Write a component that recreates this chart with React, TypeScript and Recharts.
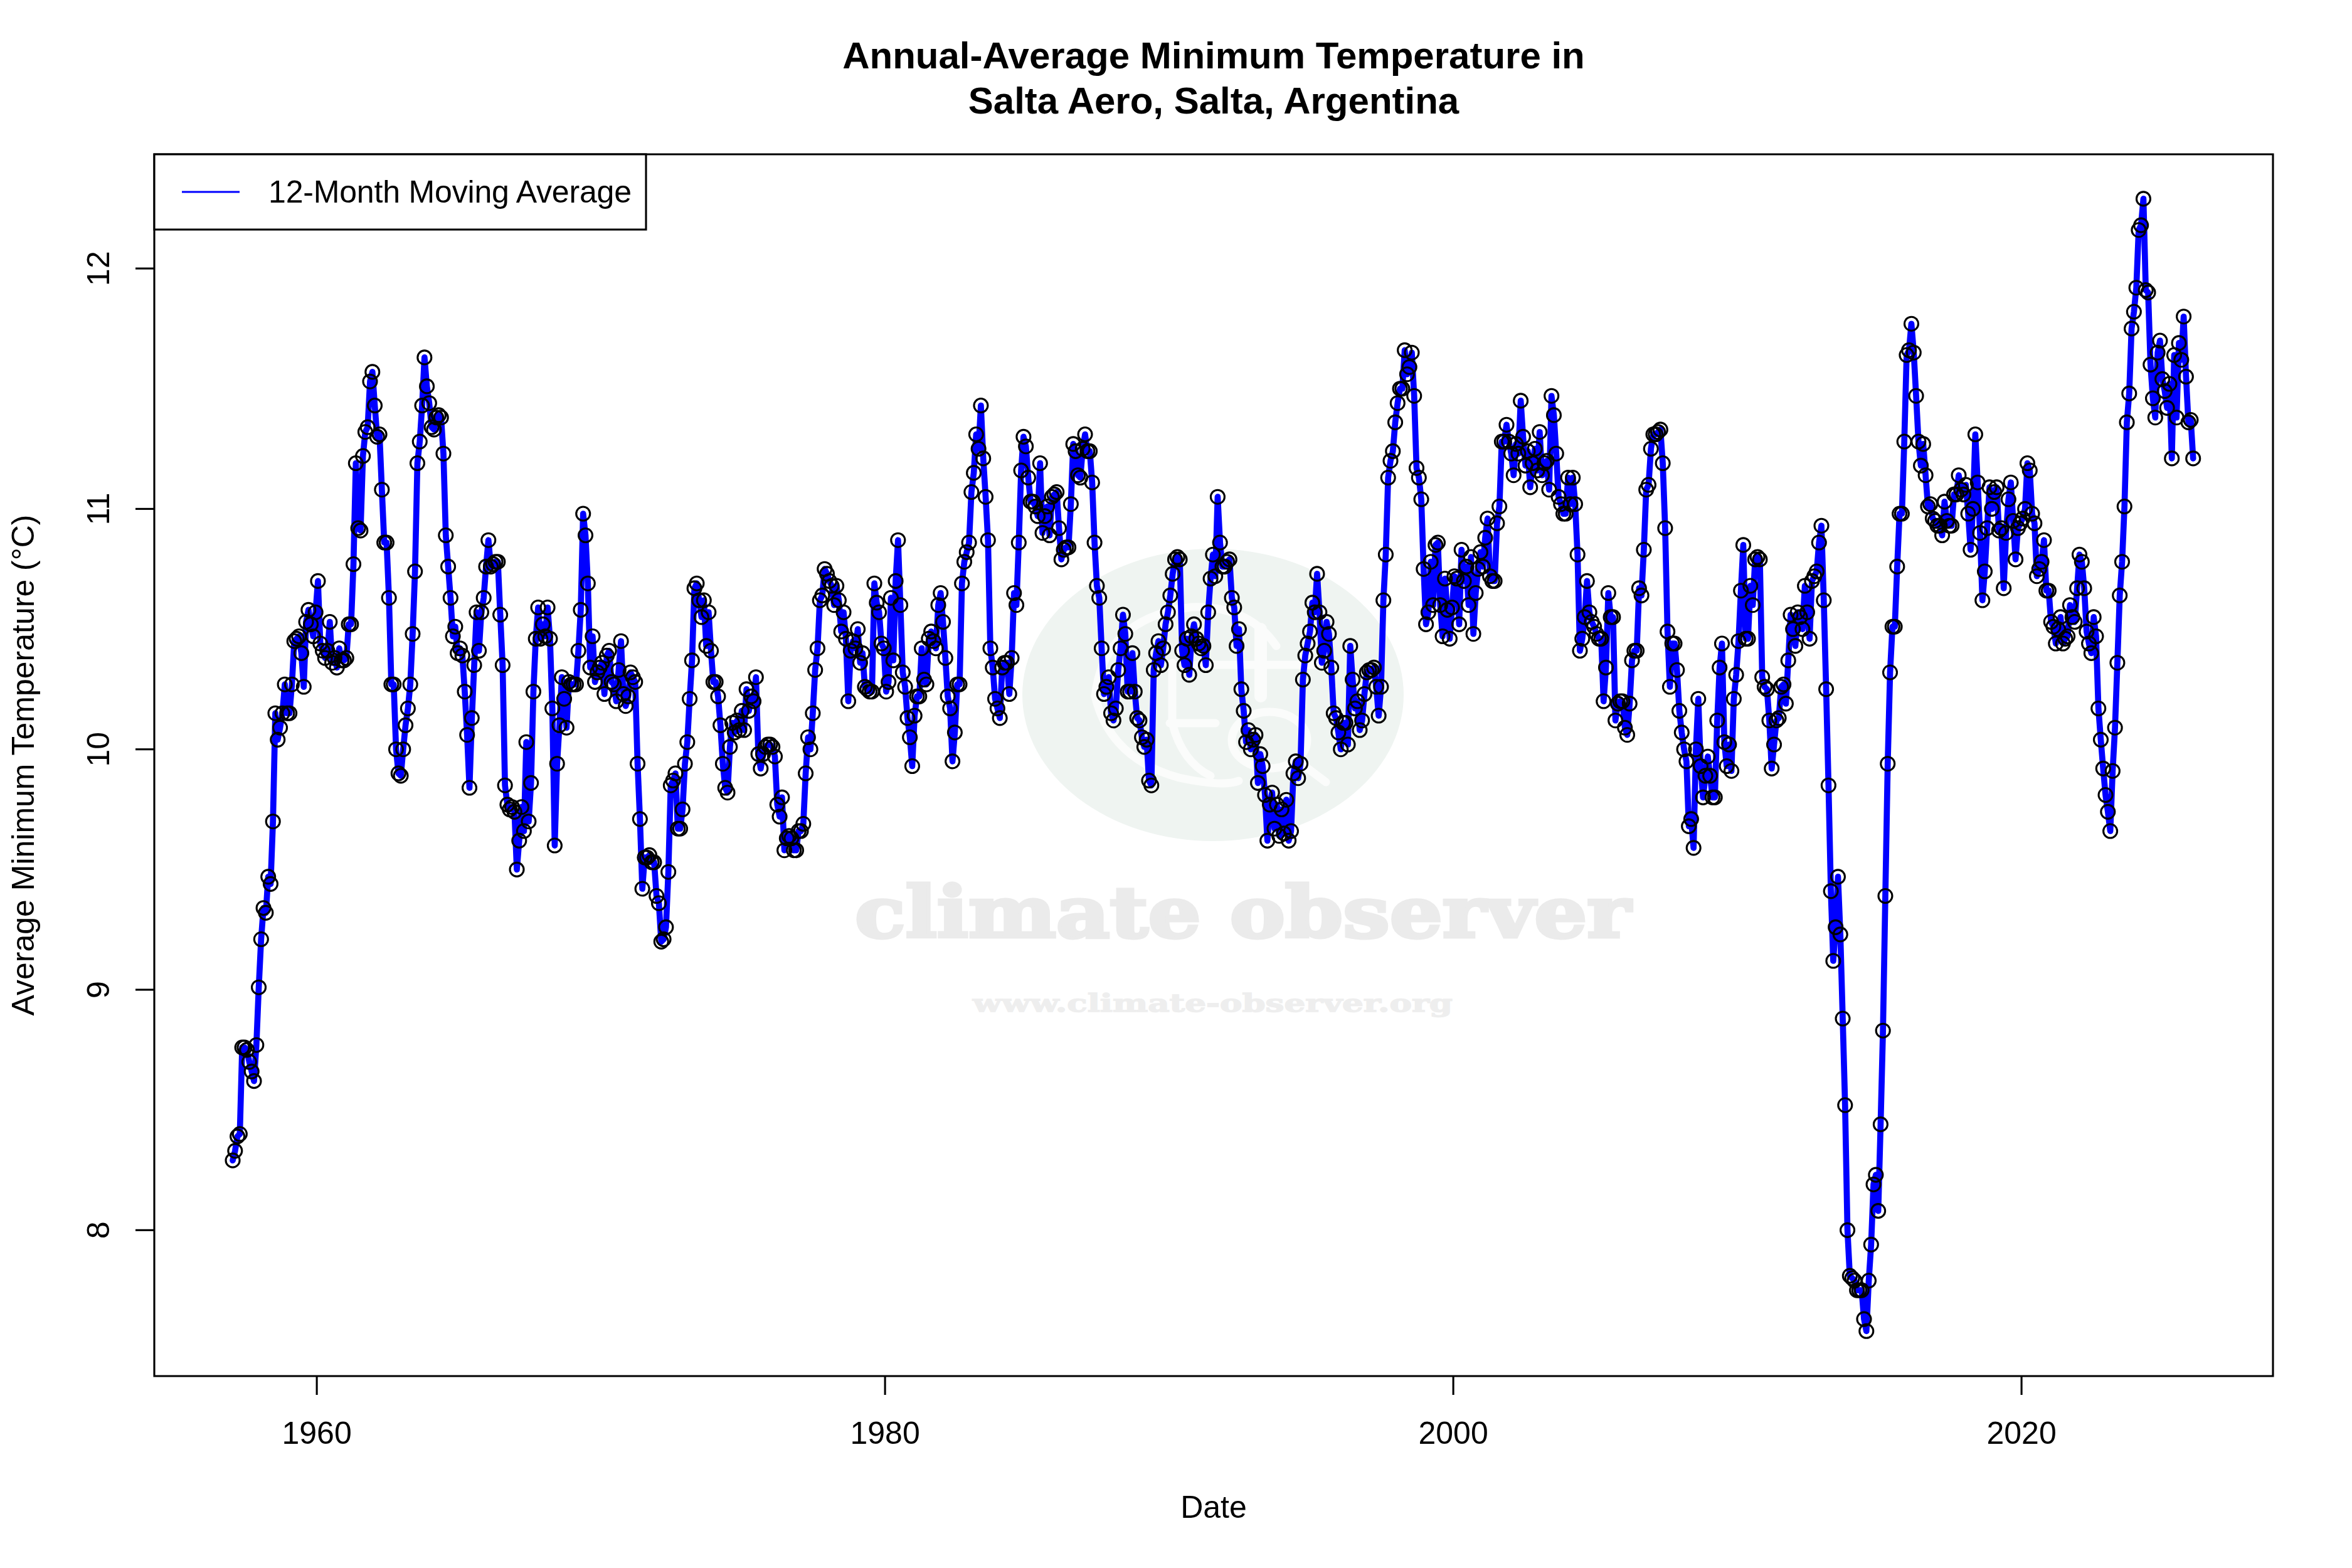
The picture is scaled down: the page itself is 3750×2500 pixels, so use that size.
import React from "react";
import { ComposedChart, Line, XAxis, YAxis, ReferenceArea } from "recharts";

const FONT = "'Liberation Sans', Arial, sans-serif";
const TITLE_LINES = ["Annual-Average Minimum Temperature in", "Salta Aero, Salta, Argentina"];
const LEGEND_LABEL = "12-Month Moving Average";
const X_LABEL = "Date";
const Y_LABEL = "Average Minimum Temperature (°C)";
const X_TICKS = [1960, 1980, 2000, 2020];
const Y_TICKS = [8, 9, 10, 11, 12];
const START_YEAR = 1957.04;

const values1957 = [8.29,8.33,8.39,8.40,8.76,8.76,8.75,8.70,8.66,8.62,8.77,9.01,9.21,9.34,9.32,9.47,9.44,9.70,10.15,10.04,10.09,10.15,10.27,10.15,10.15,10.27,10.45,10.46,10.47,10.40,10.26,10.53,10.58,10.52,10.47,10.57,10.70,10.44,10.41,10.38,10.41,10.53,10.36,10.38,10.34,10.42,10.37,10.37,10.38,10.52,10.52,10.77,11.19,10.92,10.91,11.22,11.32,11.34,11.53,11.57,11.43,11.30,11.31,11.08,10.86,10.86,10.63,10.27,10.27,10.00,9.90,9.89,10.00,10.10,10.17,10.27,10.48,10.74,11.19,11.28,11.43,11.63,11.51,11.44,11.34,11.33,11.38,11.39,11.38,11.23,10.89,10.76,10.63,10.47,10.51,10.40,10.42,10.39,10.24,10.06,9.84,10.13,10.35,10.57,10.41,10.57,10.63,10.76,10.87,10.76,10.77,10.78,10.78,10.56,10.35,9.85,9.77,9.75,9.76,9.74,9.50,9.62,9.76,9.66,10.03,9.70,9.86,10.24,10.46,10.59,10.46,10.52,10.47,10.59,10.46,10.17,9.60,9.94,10.10,10.30,10.21,10.09,10.28,10.27,10.27,10.27,10.41,10.58,10.98,10.89,10.69,10.34,10.47,10.28,10.32,10.34,10.36,10.23,10.39,10.41,10.28,10.27,10.20,10.33,10.45,10.23,10.18,10.22,10.32,10.30,10.28];
const values1971 = [9.94,9.71,9.42,9.55,9.55,9.56,9.53,9.53,9.39,9.36,9.20,9.21,9.26,9.49,9.85,9.87,9.90,9.67,9.67,9.75,9.94,10.03,10.21,10.37,10.67,10.69,10.62,10.55,10.62,10.43,10.57,10.41,10.28,10.28,10.22,10.10,9.94,9.84,9.82,10.01,10.11,10.07,10.12,10.08,10.16,10.08,10.25,10.16,10.22,10.20,10.30,9.98,9.92,9.98,10.01,10.02,10.02,10.01,9.97,9.77,9.72,9.80,9.58,9.63,9.64,9.63,9.58,9.58,9.66,9.66,9.69,9.90,10.05,10.00,10.15,10.33,10.42,10.62,10.64,10.75,10.73,10.70,10.68,10.60,10.68,10.62,10.49,10.57,10.46,10.20,10.41,10.45,10.42,10.50,10.36,10.40,10.26,10.25,10.24,10.24,10.69,10.61,10.57,10.44,10.42,10.24,10.28,10.63,10.37,10.70,10.87,10.60,10.32,10.26,10.13,10.05,9.93,10.14,10.22,10.22,10.42,10.29,10.27,10.46,10.49,10.45,10.42,10.60,10.65,10.53,10.38,10.22,10.17,9.95,10.07,10.27,10.27,10.69,10.78,10.82,10.86,11.07,11.15,11.31,11.25,11.43,11.21,11.05,10.87,10.42,10.34,10.21,10.17,10.13,10.34,10.36,10.36,10.23,10.38,10.65,10.60,10.86,11.16,11.30,11.26,11.13,11.03,11.03,11.01,10.97,11.19,10.90,10.97,11.01,10.89,11.05,11.06,11.07,10.92,10.79,10.83,10.84,10.84,11.02,11.27,11.24,11.14,11.13,11.25,11.31,11.24,11.24,11.11,10.86,10.68,10.63];
const values1987 = [10.42,10.23,10.26,10.30,10.15,10.12,10.17,10.33,10.42,10.56,10.48,10.24,10.24,10.40,10.24,10.13,10.12,10.05,10.01,10.04,9.87,9.85,10.33,10.40,10.45,10.35,10.42,10.52,10.57,10.64,10.73,10.79,10.80,10.79,10.41,10.35,10.46,10.31,10.47,10.52,10.46,10.44,10.42,10.43,10.35,10.57,10.71,10.81,10.72,11.05,10.86,10.76,10.76,10.78,10.79,10.63,10.59,10.43,10.50,10.25,10.16,10.03,10.08,10.00,10.04,10.06,9.86,9.98,9.93,9.81,9.62,9.77,9.82,9.67,9.77,9.64,9.75,9.65,9.79,9.62,9.66,9.90,9.95,9.88,9.94,10.29,10.39,10.44,10.49,10.61,10.57,10.73,10.57,10.36,10.41,10.53,10.48,10.34,10.15,10.13,10.07,10.00,10.11,10.11,10.02,10.43,10.29,10.17,10.20,10.08,10.12,10.23,10.32,10.33,10.33,10.34,10.26,10.14,10.26,10.62,10.81,11.13,11.20,11.24,11.36,11.44,11.50,11.50,11.66,11.56,11.59,11.65,11.47,11.17,11.13,11.04,10.75,10.52,10.57,10.78,10.60,10.85,10.86,10.60,10.47,10.71,10.58,10.46,10.59,10.72,10.71,10.52,10.83,10.70,10.76,10.60,10.80,10.48,10.65,10.75,10.82,10.76,10.88,10.96,10.72,10.70,10.70,10.94,11.01,11.28,11.28,11.35,11.28,11.23,11.14,11.27,11.23,11.45,11.30,11.18,11.24,11.09,11.19,11.25,11.16,11.32,11.14,11.19,11.20,11.08,11.47,11.39,11.23,11.05,11.02,10.98,10.98,11.13,11.02,11.13,11.02,10.81];
const values2004 = [10.41,10.46,10.55,10.70,10.57,10.53,10.51,10.48,10.46,10.46,10.20,10.34,10.65,10.55,10.55,10.12,10.19,10.20,10.20,10.09,10.06,10.19,10.37,10.41,10.41,10.67,10.64,10.83,11.08,11.10,11.25,11.31,11.31,11.32,11.33,11.19,10.92,10.49,10.26,10.44,10.44,10.33,10.16,10.07,10.00,9.95,9.68,9.71,9.59,10.00,10.21,9.93,9.80,9.89,9.97,9.89,9.80,9.80,10.12,10.34,10.44,10.03,9.93,10.02,9.91,10.21,10.31,10.45,10.66,10.85,10.46,10.46,10.68,10.60,10.79,10.80,10.79,10.30,10.26,10.25,10.12,9.92,10.02,10.12,10.13,10.26,10.27,10.19,10.37,10.56,10.50,10.43,10.57,10.55,10.50,10.68,10.57,10.46,10.70,10.72,10.74,10.86,10.93,10.62,10.25,9.85,9.41,9.12,9.26,9.47,9.23,8.88,8.52,8.00,7.81,7.80,7.79,7.75,7.75,7.75,7.63,7.58,7.79,7.94,8.19,8.23,8.08,8.44,8.83,9.39,9.94,10.32,10.51,10.51,10.76,10.98,10.98,11.28,11.64,11.66,11.77,11.65,11.47,11.28,11.18,11.27,11.14,11.01,11.02,10.96,10.95,10.93,10.93,10.89,11.03,10.95,10.93,10.93,11.06,11.06,11.14,11.08,11.06,11.10,10.98];
const values2018 = [10.83,11.00,11.31,11.11,10.90,10.62,10.74,10.92,11.09,11.00,11.07,11.09,10.91,10.92,10.67,10.90,11.04,11.11,10.95,10.79,10.92,10.94,10.96,11.00,11.19,11.16,10.98,10.94,10.72,10.75,10.78,10.87,10.66,10.66,10.53,10.51,10.44,10.50,10.55,10.44,10.46,10.47,10.60,10.55,10.53,10.67,10.81,10.78,10.67,10.49,10.44,10.40,10.55,10.47,10.17,10.04,9.92,9.81,9.74,9.66,9.91,10.09,10.36,10.64,10.78,11.01,11.36,11.48,11.75,11.82,11.92,12.16,12.18,12.29,11.91,11.90,11.60,11.46,11.38,11.65,11.70,11.54,11.49,11.42,11.52,11.21,11.64,11.38,11.69,11.62,11.80,11.55,11.36,11.37,11.21];

const values = [...values1957, ...values1971, ...values1987, ...values2004, ...values2018];
const table = values.map((value, i) => ({ year: START_YEAR + i / 12, value }));

const Ring = (p: any) => {
  const { cx, cy, index } = p;
  if (cx == null || cy == null) return <g key={index} />;
  return <circle key={index} cx={cx} cy={cy} r={11} fill="none" stroke="#000" strokeWidth={3.1} />;
};

const XTick = (p: any) => (
  <text x={p.x} y={p.y + 78} textAnchor="middle" fontFamily={FONT} fontSize={50} fill="#000">
    {p.payload.value}
  </text>
);
const YTick = (p: any) => (
  <text x={p.x - 42} y={p.y} textAnchor="middle" fontFamily={FONT} fontSize={50} fill="#000"
    transform={`rotate(-90 ${p.x - 42} ${p.y})`}>
    {p.payload.value}
  </text>
);

const Watermark = () => (
  <svg width={3750} height={2500} style={{ position: "absolute", left: 0, top: 0 }}>
    <rect x={0} y={0} width={3750} height={2500} fill="#fff" />
    <ellipse cx={1934} cy={1108} rx={304} ry={233} fill="#eff4f1" />
    <g fill="none" stroke="#fbfcfb" strokeWidth={13} strokeLinecap="round">
      <path d="M1746,1110 Q1760,985 1900,968 Q1990,965 2035,1030" />
      <path d="M1746,1110 Q1770,1210 1880,1240 Q1950,1255 1975,1245" />
      <path d="M2010,1003 L2010,1110" strokeWidth={20} />
      <path d="M1906,1060 L2110,1060" />
      <path d="M1869,1057 L1869,1153 Q1885,1215 1930,1237" />
      <path d="M1865,1153 L1938,1153" />
      <ellipse cx={2024} cy={1180} rx={60} ry={45} />
      <path d="M2069,1213 L2114,1247" />
    </g>
    <text x={1363} y={1494} textLength={1237} lengthAdjust="spacingAndGlyphs" stroke="#ebebeb" strokeWidth={5}
      fontFamily="'DejaVu Serif', serif" fontWeight="bold" fontSize={112} fill="#ebebeb">climate observer</text>
    <text x={1551} y={1613} textLength={765} lengthAdjust="spacingAndGlyphs" stroke="#eeeeee" strokeWidth={1.5}
      fontFamily="'DejaVu Serif', serif" fontWeight="bold" fontSize={40} fill="#eeeeee">www.climate-observer.org</text>
  </svg>
);

const Overlay = () => (
  <svg width={3750} height={2500} style={{ position: "absolute", left: 0, top: 0, pointerEvents: "none" }}>
    {TITLE_LINES.map((t, i) => (
      <text key={t} x={1935} y={109 + i * 72} textAnchor="middle" fontFamily={FONT} fontWeight="bold" fontSize={60} fill="#000">{t}</text>
    ))}
    <text x={1935} y={2420} textAnchor="middle" fontFamily={FONT} fontSize={50} fill="#000">{X_LABEL}</text>
    <text x={54} y={1220} textAnchor="middle" fontFamily={FONT} fontSize={50} fill="#000" transform="rotate(-90 54 1220)">{Y_LABEL}</text>
    <rect x={246} y={246} width={784} height={120} fill="#fff" stroke="#000" strokeWidth={3.1} />
    <line x1={290} y1={306} x2={382} y2={306} stroke="#0000ff" strokeWidth={3.1} />
    <text x={428} y={323} fontFamily={FONT} fontSize={50} fill="#000" textLength={579}>{LEGEND_LABEL}</text>
  </svg>
);

export default function App() {
  return (
    <div style={{ position: "absolute", left: 0, top: 0, width: 3750, height: 2500, background: "#fff" }}>
      <Watermark />
      <div style={{ position: "absolute", left: 0, top: 0 }}>
        <ComposedChart width={3750} height={2500} data={table} margin={{ top: 246, right: 126, bottom: 0, left: 0 }}>
          <XAxis type="number" dataKey="year" domain={[1954.28, 2028.85]} ticks={X_TICKS} allowDataOverflow
            height={306} tickSize={30} tickMargin={0} tick={XTick} interval={0}
            axisLine={false} tickLine={{ stroke: "#000", strokeWidth: 3.1 }} />
          <YAxis type="number" domain={[7.393, 12.475]} ticks={Y_TICKS} allowDataOverflow
            width={246} tickSize={30} tickMargin={0} tick={YTick} interval={0}
            axisLine={false} tickLine={{ stroke: "#000", strokeWidth: 3.1 }} />
          <ReferenceArea x1={1954.28} x2={2028.85} y1={7.393} y2={12.475} fill="none" stroke="#000" strokeWidth={3.1} />
          <Line dataKey="value" stroke="none" dot={Ring} activeDot={false} isAnimationActive={false} legendType="none" />
          <Line dataKey="value" stroke="#0000ff" strokeWidth={9.7} strokeLinejoin="round" strokeLinecap="round" dot={false} activeDot={false} isAnimationActive={false} name={LEGEND_LABEL} />
        </ComposedChart>
      </div>
      <Overlay />
    </div>
  );
}
